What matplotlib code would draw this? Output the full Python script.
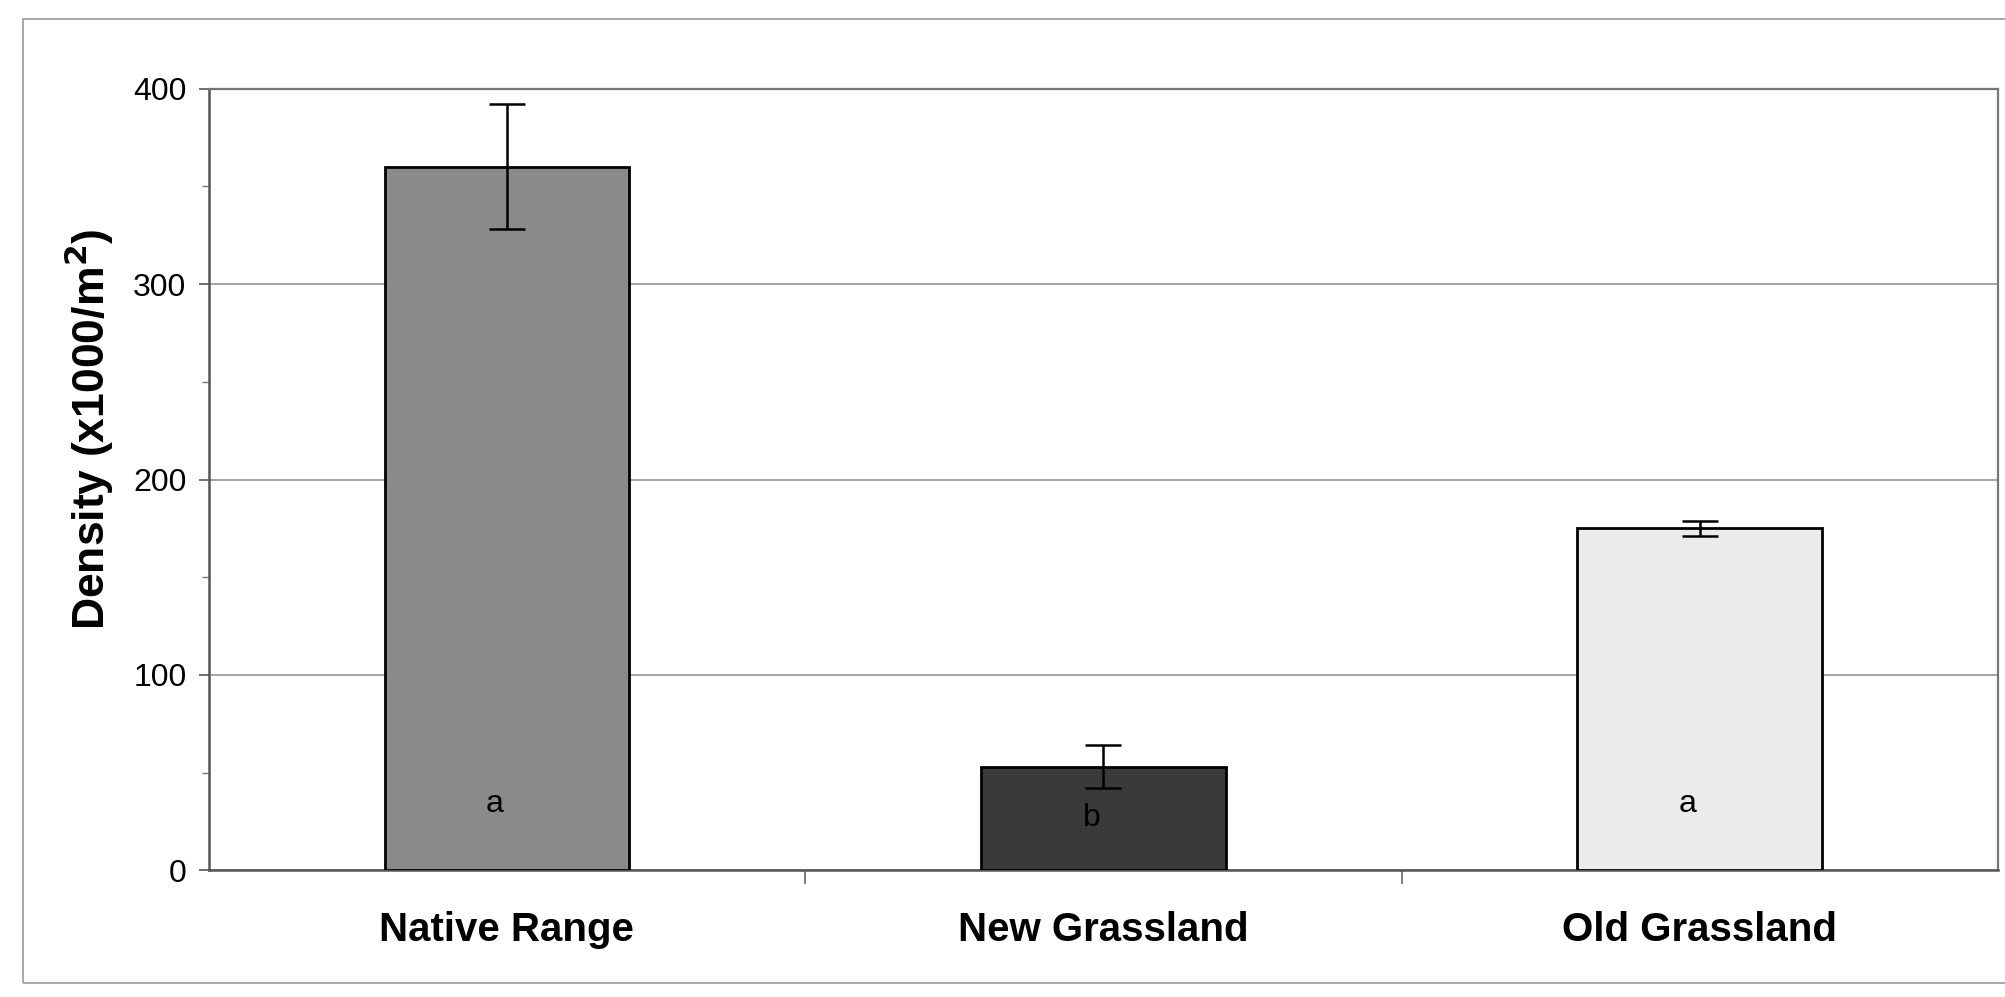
import matplotlib.pyplot as plt
from matplotlib.patches import Rectangle

categories = ["Native Range", "New Grassland", "Old Grassland"]
density = [360, 53, 175]
density_se = [32, 11, 4]
letters = ["a", "b", "a"]
letter_y = [34, 27, 34]
bar_colors = ["#8a8a8a", "#3a3a3a", "#ebebeb"]
y_ticks = [0, 100, 200, 300, 400]

plt.rcParams["font.family"] = ["Liberation Sans", "DejaVu Sans"]

fig = plt.figure(figsize=(20.06, 9.97), dpi=100)
ax = fig.add_axes([0.104, 0.127, 0.892, 0.784])

# outer chart border (Excel chart area)
fig.patches.append(Rectangle((0.0115, 0.014), 1.2, 0.967, transform=fig.transFigure,
                             fill=False, edgecolor="#9a9a9a", linewidth=1.2))

x = range(len(categories))
ax.bar(x, density, width=0.41, color=bar_colors, edgecolor="black", linewidth=2.0, zorder=3)
ax.errorbar(x, density, yerr=density_se, fmt="none", ecolor="black",
            elinewidth=1.8, capsize=13, capthick=1.8, zorder=4)

for i, letter in enumerate(letters):
    ax.text(i - 0.02, letter_y[i], letter, ha="center", va="center", fontsize=23, zorder=5)

ax.set_xlim(-0.5, 2.5)
ax.set_ylim(0, 400)
ax.set_yticks(y_ticks)
ax.set_yticks(range(50, 400, 100), minor=True)
ax.tick_params(axis="y", which="major", labelsize=23, length=7, width=1.2, pad=9, color="#555555")
ax.tick_params(axis="y", which="minor", length=5, width=1.0, color="#777777")

ax.set_xticks(list(x))
ax.set_xticklabels(categories, fontsize=29, fontweight="bold")
ax.set_xticks([0.5, 1.5], minor=True)
ax.tick_params(axis="x", which="major", length=0, pad=29)
ax.tick_params(axis="x", which="minor", length=10, width=1.2, color="#666666")

ax.yaxis.grid(True, color="#8c8c8c", linewidth=1.1, zorder=0)
ax.set_axisbelow(True)
for side in ["left", "bottom"]:
    ax.spines[side].set_color("#555555")
    ax.spines[side].set_linewidth(1.8)
for side in ["top", "right"]:
    ax.spines[side].set_color("#777777")
    ax.spines[side].set_linewidth(1.6)

ax.set_ylabel("Density (x1000/m$^{\\mathbf{2}}$)", fontsize=32, fontweight="bold")
ax.yaxis.set_label_coords(-0.052, 0.565)

fig.savefig("out.png", dpi=100)
plt.close(fig)
